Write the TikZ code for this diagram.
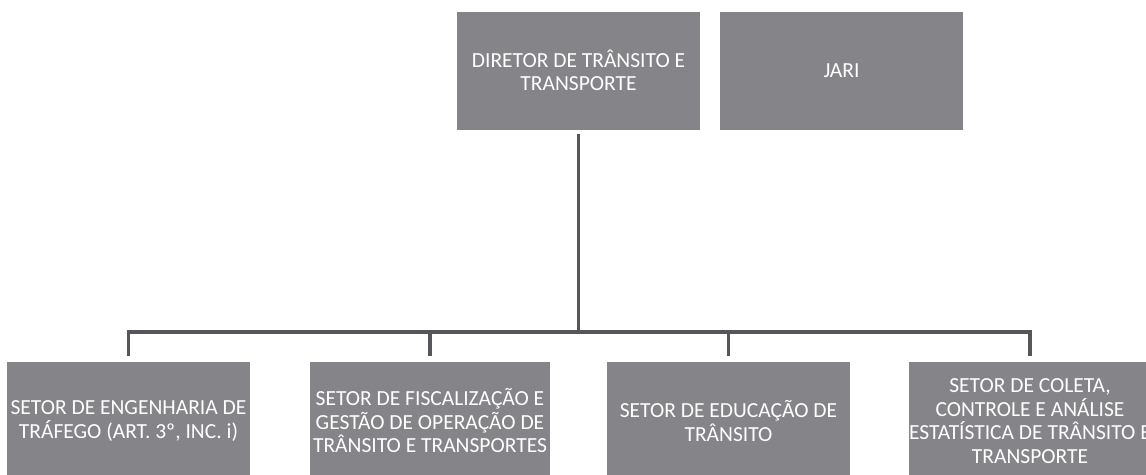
\documentclass[tikz,border=0pt]{standalone}
\usepackage{fontspec}
\setmainfont{Carlito}
\definecolor{boxgray}{RGB}{132,132,137}
\definecolor{linegray}{RGB}{85,85,90}
\tikzset{
  orgbox/.style={rectangle, fill=boxgray, text=white, minimum width=243pt, minimum height=118pt,
    inner sep=0pt, align=center, font=\fontsize{21.5pt}{23.5pt}\selectfont},
  conn/.style={draw=linegray, line width=3.5pt, line join=miter, line cap=butt}
}
\begin{document}
\begin{tikzpicture}[x=1pt,y=-1pt]
\useasboundingbox (0,0) rectangle (1146,474);
\fill[white] (0,0) rectangle (1146,474);
\node[orgbox] (dir) at (578.5,70.5) {DIRETOR DE TRÂNSITO E\\TRANSPORTE};
\node[orgbox] (jari) at (841.5,70.5) {JARI};
\node[orgbox] (b1) at (128.5,421) {SETOR DE ENGENHARIA DE\\TRÁFEGO (ART. 3º, INC. i)};
\node[orgbox, minimum width=240pt] (b2) at (430,421) {SETOR DE FISCALIZAÇÃO E\\GESTÃO DE OPERAÇÃO DE\\TRÂNSITO E TRANSPORTES};
\node[orgbox] (b3) at (728.5,421) {SETOR DE EDUCAÇÃO DE\\TRÂNSITO};
\node[orgbox] (b4) at (1030,421) {SETOR DE COLETA,\\CONTROLE E ANÁLISE\\ESTATÍSTICA DE TRÂNSITO E\\TRANSPORTE};
\coordinate (bus) at (578.5,332);
\draw[conn, shorten <=4pt] (dir.south) -- (bus);
\draw[conn, shorten >=6pt] (bus) -| (b1.north);
\draw[conn, shorten >=6pt] (bus) -| (b2.north);
\draw[conn, shorten >=6pt] (bus) -| (b3.north);
\draw[conn, shorten >=6pt] (bus) -| (b4.north);
\end{tikzpicture}
\end{document}
